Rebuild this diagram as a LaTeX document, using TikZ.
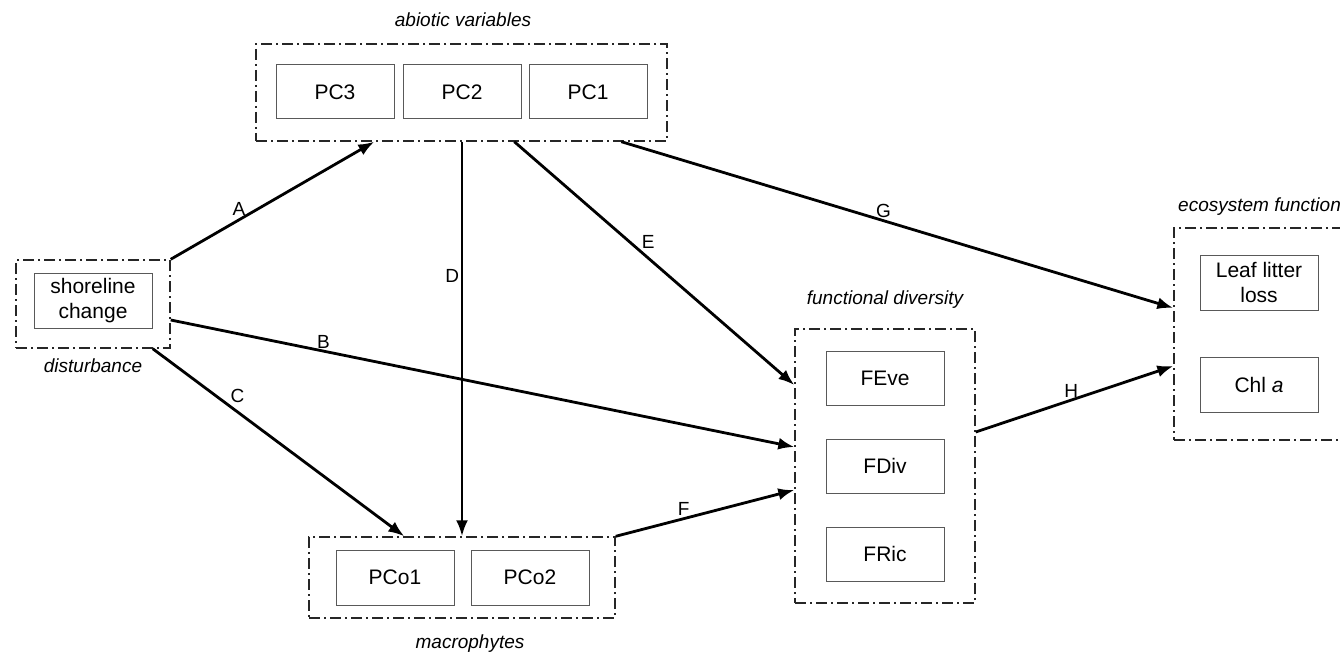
\documentclass[tikz,border=0pt]{standalone}
\usepackage{fontspec}
\setmainfont{Liberation Sans}
\usetikzlibrary{arrows.meta}
\begin{document}
\begin{tikzpicture}[x=1pt,y=-1pt,
  inbox/.style={draw=black!65, line width=1pt, minimum width=118pt, minimum height=54pt, inner sep=0pt, font=\fontsize{21}{25}\selectfont, align=center},
  group/.style={draw=black!85, line width=1.4pt, dash pattern=on 11pt off 4pt on 2pt off 4pt, inner sep=0pt},
  grouplabel/.style={font=\fontsize{19}{23}\selectfont\itshape, inner sep=0pt},
  link/.style={line width=2.8pt, -{Latex[length=16pt,width=12pt]}},
  lbl/.style={font=\fontsize{19}{22}\selectfont, inner sep=1.5pt}
]
\useasboundingbox (0,0) rectangle (1340,655);
\fill[white] (0,0) rectangle (1340,655);

% disturbance
\node[group, minimum width=154pt, minimum height=88pt] (dist) at (93,304) {};
\node[inbox, minimum height=55pt] (shore) at (93,300.5) {shoreline\\change};
\node[grouplabel] (distl) at (93,366) {disturbance};

% abiotic variables
\node[group, minimum width=411pt, minimum height=97pt] (abio) at (461.5,92.5) {};
\node[inbox] (pc3) at (335,92) {PC3};
\node[inbox] (pc2) at (462,92) {PC2};
\node[inbox] (pc1) at (588,92) {PC1};
\node[grouplabel] (abiol) at (463,20) {abiotic variables};

% macrophytes
\node[group, minimum width=306pt, minimum height=81pt] (macro) at (462,577.5) {};
\node[inbox, minimum height=55pt] (pco1) at (395,577.5) {PCo1};
\node[inbox, minimum height=55pt] (pco2) at (530,577.5) {PCo2};
\node[grouplabel] (macrol) at (470,644) {macrophytes};

% functional diversity
\node[group, minimum width=180pt, minimum height=274pt] (fd) at (885,466) {};
\node[inbox] (feve) at (885,378) {FEve};
\node[inbox] (fdiv) at (885,466) {FDiv};
\node[inbox] (fric) at (885,554) {FRic};
\node[grouplabel] (fdl) at (885,300) {functional diversity};

% ecosystem functions
\node[group, minimum width=178pt, minimum height=212pt] (eco) at (1263,334) {};
\node[inbox, minimum height=55pt] (leaf) at (1259,282.5) {Leaf litter\\loss};
\node[inbox, minimum height=55pt] (chl) at (1259,384.5) {Chl \textit{a}};
\node[grouplabel, anchor=west] (ecol) at (1178,207) {ecosystem function};

% connectors
\draw[link] (dist.north east) -- node[lbl, pos=0.35, above, xshift=-3pt] (la) {A} ([xshift=119pt]abio.south west);
\draw[link] ([yshift=-16pt]dist.east) -- node[lbl, pos=0.245, above] (lb) {B} ([yshift=19pt]fd.west);
\draw[link] ([xshift=-18pt]dist.south east) -- node[lbl, pos=0.30, above right, inner sep=1pt] (lc) {C} ([xshift=96pt]macro.north west);
\draw[link] ([xshift=0.5pt]abio.south) -- node[lbl, pos=0.34, left] (ld) {D} (macro.north);
\draw[link] ([xshift=259pt]abio.south west) -- node[lbl, pos=0.447, above right, inner sep=1pt] (le) {E} ([yshift=81pt]fd.west);
\draw[link] (macro.north east) -- node[lbl, pos=0.38, above] (lf) {F} ([yshift=-24pt]fd.west);
\draw[link] ([xshift=366pt]abio.south west) -- node[lbl, pos=0.475, above] (lg) {G} ([yshift=26pt]eco.west);
\draw[link] ([yshift=34pt]fd.east) -- node[lbl, pos=0.484, above] (lh) {H} ([yshift=-32pt]eco.west);
\end{tikzpicture}
\end{document}
